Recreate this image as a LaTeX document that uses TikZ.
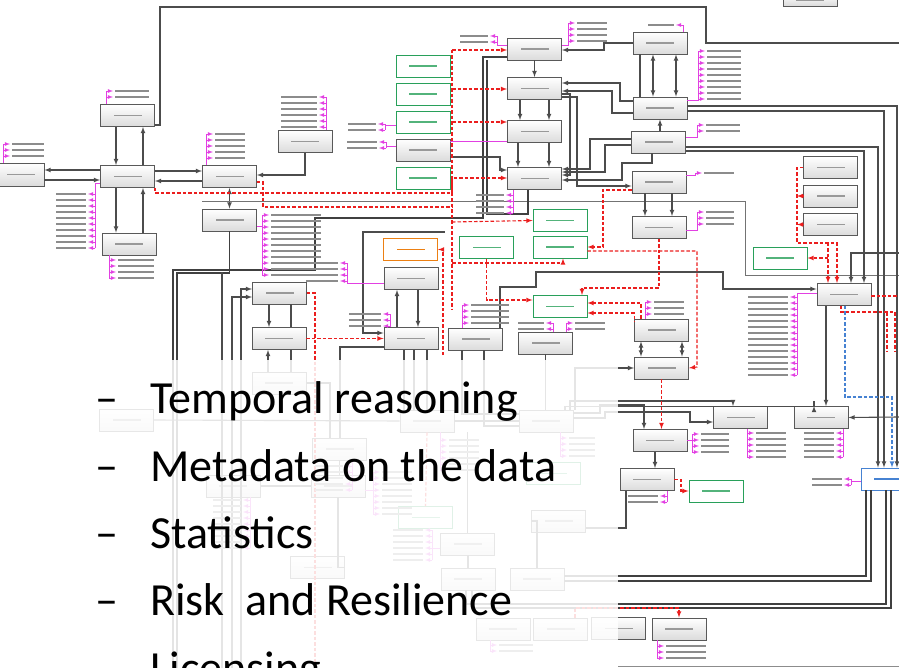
\documentclass[tikz,border=0pt]{standalone}
\usepackage{fontspec}
\setmainfont{Carlito}
\definecolor{attrc}{RGB}{226,64,226}
\definecolor{linkgreen}{RGB}{40,160,90}
\definecolor{refred}{RGB}{235,30,30}
\definecolor{blueln}{RGB}{70,130,210}
% attribute list: anchor, spine x, first y, count, side (1/-1), label length
\newcommand{\attlist}[6]{%
  \draw[attr] (#1) -| (#2,#3);
  \draw[attr] (#2,#3) -- (#2,{#3+(#4-1)*6});
  \foreach \ii in {1,...,#4}{
    \draw[attr,->] (#2,{#3+(\ii-1)*6}) -- ++({#5*7},0);
    \fill[black!45] ({#2+#5*9},{#3+(\ii-1)*6-0.8}) rectangle ++({#5*#6},1.6);
  }
}
\begin{document}
\begin{tikzpicture}[x=1pt,y=-1pt,>=latex,
  blur/.style={path picture={\fill[#1] ([xshift=-14pt,yshift=-0.8pt]path picture bounding box.center) rectangle ([xshift=14pt,yshift=0.8pt]path picture bounding box.center);}},
  base/.style={draw, line width=0.9pt, minimum width=54pt, minimum height=22pt, inner sep=0pt},
  box/.style={base, draw=black!65, top color=white, bottom color=black!14, blur=black!40},
  gbox/.style={base, draw=linkgreen, fill=white, blur=linkgreen!80},
  obox/.style={base, draw=orange!70!brown, fill=white, blur=orange!70!brown},
  blubox/.style={base, draw=blueln, fill=white, blur=blueln},
  conn/.style={draw=black!70, line width=1.1pt},
  bus/.style={draw=black!75, line width=1.5pt},
  thinl/.style={draw=black!55, line width=0.6pt},
  rd/.style={draw=refred, line width=1.1pt, dash pattern=on 3.5pt off 2pt},
  bd/.style={draw=blueln, line width=1.1pt, dash pattern=on 3.5pt off 2pt},
  attr/.style={draw=attrc, line width=0.8pt},
  bullettxt/.style={anchor=base west, inner sep=0pt, font=\fontsize{46}{50}\selectfont, text=black}]
\useasboundingbox (0,0) rectangle (899,668);
\clip (0,0) rectangle (899,668);

% railway part
\node[box, minimum width=46pt, minimum height=23pt] (rline) at (21,174.5) {};
\node[box] (relem) at (127.5,176.5) {};
\node[box] (rdir) at (127.5,115.5) {};
\node[box] (rsec) at (129,244) {};
\node[box] (rjunc) at (229.5,176.5) {};
\node[box] (tstat) at (229.5,220) {};
\node[box] (rsig) at (305,141.5) {};
\node[gbox] (lkA) at (423,66) {};
\node[gbox] (lkB) at (423,94) {};
\node[gbox] (lkC) at (423,122) {};
\node[box] (link) at (423,150) {};
\node[gbox] (lkD) at (423,178) {};
% public transport part
\node[box] (ptz) at (534.5,49) {};
\node[box] (route) at (534.5,88.5) {};
\node[box] (rsect) at (534.5,131.5) {};
\node[box] (rstop) at (534.5,178.5) {};
\node[box] (zone) at (660,43) {};
\node[box] (jroute) at (660,108) {};
\node[box] (rproto) at (658.5,142) {};
\node[box] (rpoint) at (659,182) {};
\node[box] (rloc) at (659,227.5) {};
\node[box] (sideA) at (830.5,167.5) {};
\node[box] (sideB) at (830.5,196) {};
\node[box] (sideC) at (830.5,224.5) {};
\node[gbox] (lkE) at (780,258) {};
\node[box] (serv) at (844,294.5) {};
\node[box] (loc) at (661.5,330) {};
\node[box] (rlink) at (661.5,368) {};
\node[box] (rjun) at (740.5,417.5) {};
\node[box] (zn) at (821,417.5) {};
\node[box] (nd) at (660,440.5) {};
\node[box] (manv) at (647,479.5) {};
\node[gbox] (lkF) at (716,491) {};
\node[blubox] (ext) at (888,479) {};
\node[box] (tflow) at (618.5,628.5) {};
\node[box] (tspeed) at (679,629) {};
\node[box, minimum height=12pt] (topbx) at (810,0) {};
% map part
\node[box] (sitp) at (279.5,293) {};
\node[box] (tline) at (279,338.5) {};
\node[obox] (ojb) at (410.5,249.5) {};
\node[box] (mjn) at (411,278.5) {};
\node[box] (map) at (411,338.5) {};
\node[box] (mapb) at (475.5,339) {};
\node[gbox] (lkG) at (486.5,247.5) {};
\node[gbox] (lkH) at (560,220.5) {};
\node[gbox] (lkI) at (560,247) {};
\node[gbox] (lkJ) at (560,306.5) {};
\node[box] (nws) at (545.5,343) {};
% lower part (behind the list)
\node[box] (fa) at (126.5,420) {};
\node[box] (fb) at (279,383) {};
\node[box] (fc) at (427,421) {};
\node[box] (fd) at (546,421) {};
\node[box] (fe) at (339.5,449) {};
\node[box] (ff) at (233,486) {};
\node[box] (fg) at (338,486) {};
\node[gbox] (fh) at (425.5,517.5) {};
\node[gbox] (fi) at (553,473.5) {};
\node[box] (fj) at (558.5,521) {};
\node[box] (fk) at (467.5,544) {};
\node[box] (fl) at (317.5,567.5) {};
\node[box] (fm) at (468,579) {};
\node[box] (fn) at (537,579) {};
\node[box] (fo) at (503,629) {};
\node[box] (fp) at (560.5,629) {};

% black connectors
\draw[conn,<-] (rline.east |- 0,170) -- (relem.west |- 0,170);
\draw[conn,->] (rline.east |- 0,180) -- (relem.west |- 0,180);
\draw[conn,->] (rdir.south -| 116,0) -- (relem.north -| 116,0);
\draw[conn,<-] (rdir.south -| 143,0) -- (relem.north -| 143,0);
\draw[conn,->] (relem.south -| 116,0) -- (rsec.north -| 116,0);
\draw[conn,<-] (relem.south -| 143,0) -- (rsec.north -| 143,0);
\draw[conn,->] (relem.east |- 0,171) -- (rjunc.west |- 0,171);
\draw[conn,<-] (relem.east |- 0,181) -- (rjunc.west |- 0,181);
\draw[conn,<->] (rjunc.south) -- (tstat.north);
\draw[conn,->] (rsig.south) |- (rjunc.east |- 0,175);
\draw[conn] (rdir.east |- 0,125) -| (160,7) -| (706,43) -- (899,43);
\draw[thinl] (rjunc.south west |- 0,201) -- (745,201) |- (899,275);
\draw[bus] (ptz.west |- 0,57) -| (483,218) -- (315,218) -- (315,270) -- (173,270) -- (173,668);
\draw[bus] (rstop.south -| 528,0) |- (487,214) -- (487,60);
\draw[bus] (tstat.south) |- (177,273) -- (177,668);
\draw[conn] (222,668) -- (222,272);
\draw[conn,->] (241,668) |- (sitp.west |- 0,289);
\draw[conn,->] (232,668) |- (sitp.west |- 0,297);
\draw[conn,->] (sitp.south -| 269,0) -- (tline.north -| 269,0);
\draw[conn] (sitp.south -| 291,0) -- (tline.north -| 291,0);
\draw[conn,<-] (tline.south -| 268,0) -- (fb.north -| 268,0);
\draw[conn] (tline.south -| 291,0) -- (fb.north -| 291,0);
\draw[conn,<-] (mjn.south -| 397,0) -- (map.north -| 397,0);
\draw[conn,->] (mjn.south -| 418,0) -- (map.north -| 418,0);
\draw[conn,<-] (map.west |- 0,333) -| (363,232) -- (445,232);
\draw[conn] (map.west |- 0,347) -| (340,372) -- (fe.north -| 340,0);
\draw[conn] (map.south -| 404,0) -- (fc.north -| 404,0);
\draw[conn] (map.south -| 414,0) -- (fc.north -| 414,0);
\draw[conn] (map.south -| 427,0) -- (fc.north -| 427,0);
\draw[conn] (mapb.south -| 462,0) |- (fd.west |- 0,414);
\draw[conn] (mapb.south -| 484,0) |- (fd.west |- 0,426);
\draw[conn] (nws.south) -- (fd.north -| nws.south);
\draw[conn,->] (zone.west) -| (604,50) -- (ptz.east |- 0,50);
\draw[conn,->] (ptz.south) -- (route.north);
\draw[conn,->] (route.south -| 520,0) -- (rsect.north -| 520,0);
\draw[conn,->] (route.south -| 549,0) -- (rsect.north -| 549,0);
\draw[conn,->] (rsect.south -| 518,0) -- (rstop.north -| 518,0);
\draw[conn,->] (rsect.south -| 549,0) -- (rstop.north -| 549,0);
\draw[conn,<->] (zone.south -| 653,0) -- (jroute.north -| 653,0);
\draw[conn,<->] (zone.south -| 676,0) -- (jroute.north -| 676,0);
\draw[conn] (zone.south -| 640,0) -- (jroute.north -| 640,0);
\draw[conn,->] (jroute.west |- 0,101) -| (620,83) -- (route.east |- 0,83);
\draw[conn,->] (jroute.west |- 0,113) -| (612,91) -- (route.east |- 0,91);
\draw[conn,<-] (jroute.south -| 660,0) -- (rproto.north -| 660,0);
\draw[conn,->] (route.east |- 0,97) -| (577,186) -- (rpoint.west |- 0,186);
\draw[conn,->] (route.east |- 0,94) -| (570,175) -- (rstop.east |- 0,175);
\draw[conn,<-] (rstop.east |- 0,169) -| (590,139) -- (rproto.west |- 0,139);
\draw[conn,<-] (rstop.east |- 0,172) -| (605,145) -- (rproto.west |- 0,145);
\draw[conn,<-] (rstop.east |- 0,180) -| (622,163) -| (rproto.south -| 652,0);
\draw[conn,->] (link.east |- 0,157) -| (500,170) -- (rstop.west |- 0,170);
\draw[conn,->] (rpoint.south -| 645,0) -- (rloc.north -| 645,0);
\draw[conn,->] (rpoint.south -| 672,0) -- (rloc.north -| 672,0);
\draw[conn,->] (jroute.east |- 0,106) -| (ext.north -| 897,0);
\draw[conn,->] (jroute.east |- 0,111) -| (ext.north -| 884,0);
\draw[conn,->] (rproto.east |- 0,147) -| (ext.north -| 878,0);
\draw[conn,->] (rproto.east |- 0,151) -| (serv.north -| 864,0);
\draw[conn,->] (899,253) -| (serv.north -| 851,0);
\draw[conn,<-] (serv.west |- 0,289) -| (723,272) -| (536,287) -| (mapb.north -| 500,0);
\draw[conn,->] (serv.south -| 826,0) -- (zn.north -| 826,0);
\draw[conn,<-] (zn.east) -- (899,417);
\draw[conn,->] (fd.north -| 565,0) |- (zn.north -| 814,0) |- (zn.north -| 814,0);
\draw[conn,->] (fd.north -| 570,0) |- (733,401) -- (rjun.north -| 733,0);
\draw[conn,->] (fd.east |- 0,413) -| (600,405) -| (nd.north -| 644,0);
\draw[conn,->] (fd.east |- 0,418) -| (605,412) -| (690,422) -- (rjun.west |- 0,422);
\draw[conn,->] (fd.north -| 575,0) |- (rlink.west);
\draw[conn,<->] (loc.south -| 641,0) -- (rlink.north -| 641,0);
\draw[conn,<->] (loc.south -| 682,0) -- (rlink.north -| 682,0);
\draw[conn,->] (nd.south -| 655,0) -- (manv.north -| 655,0);
\draw[conn] (manv.south -| 626,0) |- (fj.east |- 0,528);
\draw[bus] (ext.south -| 866,0) |- (fn.east |- 0,576);
\draw[bus] (ext.south -| 871,0) |- (fn.east |- 0,581);
\draw[bus] (ext.south -| 886,0) |- (466,604) -- (fm.south -| 466,0);
\draw[bus] (ext.south -| 891,0) |- (472,608) -- (fm.south -| 472,0);
\draw[conn] (fa.east) -- (fc.west);
\draw[conn] (fc.east) -- (fd.west);
\draw[conn] (fb.east) -| (fe.north -| 330,0);
\draw[conn] (fe.south) -- (fg.north -| fe.south);
\draw[conn] (fg.south) |- (fl.east);
\draw[conn] (fk.north) -- (fd.south -| fk.north);
\draw[conn] (fm.north) -- (fk.south -| fm.north);
\draw[conn] (fn.north) |- (fj.west);
\draw[conn] (ff.east) -- (fg.west);

% red and blue dashed connectors
\draw[rd,->] (relem.south east) |- (452,193) |- (rstop.west |- 0,178);
\draw[rd] (rjunc.east |- 0,182) -| (263,207) -- (452,207);
\draw[rd] (452,50) -- (452,310);
\draw[rd,->] (452,50) -- (ptz.west |- 0,50);
\draw[rd,->] (452,89) -- (route.west |- 0,89);
\draw[rd,->] (452,122) -- (rsect.west |- 0,122);
\draw[rd,->] (452,222) -- (lkH.west);
\draw[rd,->] (452,263) -| (lkI.south -| 563,0);
\draw[rd,->] (lkG.south) |- (lkJ.west |- 0,300);
\draw[rd,->] (443,355) |- (ojb.east);
\draw[rd,->] (tline.east) -- (map.west);
\draw[rd] (sitp.east) -| (315,668);
\draw[rd,->] (rloc.south) -- (659,288) -| (lkJ.north -| 582,0);
\draw[rd,->] (rpoint.west |- 0,190) -| (603,247) -- (lkI.east);
\draw[rd,->] (lkI.east |- 0,251) -| (697,367) -- (rlink.east);
\draw[rd,<-] (lkJ.east |- 0,303) -| (loc.north -| 641,0);
\draw[rd,<-] (lkJ.east |- 0,313) -| (loc.west |- 0,322);
\draw[rd,->] (rlink.south) -- (nd.north -| rlink.south);
\draw[rd,->] (sideA.west) -| (797,243) -| (serv.north -| 837,0);
\draw[rd,->] (sideB.west) -- (sideB.west -| 797,0);
\draw[rd,->] (sideC.west) -- (sideC.west -| 797,0);
\draw[rd,->] (828,243) -- (serv.north -| 828,0);
\draw[rd,->] (828,258) -- (lkE.east);
\draw[rd] (serv.east |- 0,296) -- (899,296);
\draw[rd] (serv.south -| 841,0) |- (895,312) -- (895,352);
\draw[rd] (887,312) -- (887,352);
\draw[rd,->] (manv.east) -| (681,491) -- (lkF.west);
\draw[rd,->] (fp.north -| 575,0) |- (679,608) -- (tspeed.north);
\draw[rd] (fc.south) -- (fh.north);
\draw[bd,->] (serv.south -| 845,0) |- (892,397) -- (ext.north -| 892,0);

% attribute lists
\draw[attr] (link.east |- 0,141) -- (rsect.west |- 0,141);
\attlist{rline.north -| 3,0}{3}{144}{3}{1}{32}
\attlist{rdir.north -| 106,0}{106}{91}{2}{1}{34}
\attlist{relem.west |- 0,183}{95}{194}{10}{-1}{30}
\attlist{rsec.south -| 109,0}{109}{260}{4}{1}{36}
\attlist{rjunc.north -| 206,0}{206}{134}{5}{1}{30}
\attlist{tstat.east |- 0,226}{262}{215}{11}{1}{50}
\attlist{rsig.north -| 326,0}{326}{97}{6}{-1}{36}
\attlist{mjn.west |- 0,283}{347}{263}{4}{-1}{32}
\attlist{map.north -| 390,0}{390}{314}{3}{-1}{32}
\attlist{mapb.north -| 462,0}{462}{305}{4}{1}{38}
\attlist{nws.north -| 553,0}{553}{323}{2}{-1}{26}
\attlist{nws.north -| 566,0}{566}{323}{2}{1}{30}
\attlist{ptz.west |- 0,45}{497}{36}{2}{-1}{28}
\attlist{ptz.east |- 0,45}{568}{23}{4}{1}{30}
\attlist{zone.north -| 683,0}{683}{25}{1}{-1}{26}
\attlist{jroute.east |- 0,100}{698}{51}{9}{1}{34}
\attlist{rproto.east |- 0,137}{697}{125}{2}{1}{34}
\attlist{rpoint.east |- 0,175}{695}{173}{1}{1}{30}
\attlist{rloc.east |- 0,230}{697}{212}{3}{1}{28}
\attlist{rstop.south -| 513,0}{513}{195}{4}{-1}{28}
\attlist{link.west |- 0,146}{386}{142}{2}{-1}{30}
\attlist{lkC.west |- 0,125}{385}{124}{2}{-1}{28}
\attlist{loc.north -| 645,0}{645}{302}{3}{1}{30}
\attlist{serv.west |- 0,293}{797}{297}{14}{-1}{40}
\attlist{rjun.south -| 747,0}{747}{433}{5}{1}{30}
\attlist{zn.south -| 843,0}{843}{433}{5}{-1}{30}
\attlist{nd.east |- 0,440}{692}{434}{4}{1}{28}
\attlist{manv.south -| 667,0}{667}{496}{2}{-1}{30}
\attlist{ext.west |- 0,481}{851}{479}{2}{-1}{30}
\attlist{tspeed.south -| 657,0}{657}{646}{3}{1}{40}
\attlist{fe.south -| 352,0}{352}{466}{5}{-1}{28}
\attlist{fg.east |- 0,490}{373}{472}{8}{1}{30}
\attlist{fc.south -| 440,0}{440}{440}{6}{1}{30}
\attlist{ff.south -| 250,0}{250}{500}{9}{-1}{28}
\attlist{fk.west |- 0,548}{432}{530}{6}{-1}{30}
\attlist{fd.south -| 560,0}{560}{438}{4}{1}{26}
\attlist{fo.south -| 490,0}{490}{645}{2}{1}{34}

% faded part behind the list
\fill[white, fill opacity=0.86] (0,360) rectangle (618,668);
\draw[black!45, line width=1.5pt] (618,666.5) -- (899,666.5);

\foreach \txt [count=\n] in {Temporal reasoning, Metadata on the data, Statistics, Risk\ \ and Resilience, Licensing}{
  \node[bullettxt] (dash\n) at (95,{346.5+67.3*\n}) {–};
  \node[bullettxt] (item\n) at (150,{346.5+67.3*\n}) {\txt};
}
\end{tikzpicture}
\end{document}
